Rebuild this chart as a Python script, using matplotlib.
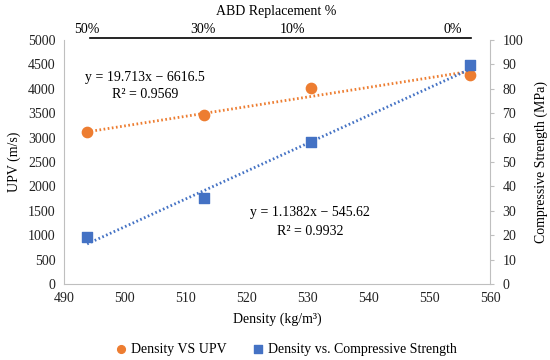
import numpy as np
import matplotlib
matplotlib.use("Agg")
import matplotlib.pyplot as plt

plt.rcParams['font.family'] = ['Liberation Serif', 'DejaVu Serif']
plt.rcParams['font.size'] = 10

# data
density = [493.8, 513.0, 530.6, 556.7]
upv = [3110, 3470, 4020, 4290]
strength = [19.1, 35.3, 58.2, 89.6]
abd_pct = ['50%', '30%', '10%', '0%']
abd_x = [493.8, 512.8, 527.6, 553.9]

# trendline coefficients as printed on the chart
upv_fit = (19.713, -6616.5, 0.9569)
str_fit = (1.1382, -545.62, 0.9932)

orange = '#ED7D31'
blue = '#4472C4'
grey = '#BFBFBF'

fig = plt.figure(figsize=(5.5, 3.6), dpi=100)
ax = fig.add_axes([64/550, 1-284/360, 426/550, 244/360])
ax2 = ax.twinx()

xs = np.array([min(density), max(density)])
ax.plot(xs, upv_fit[0]*xs + upv_fit[1], color=orange, lw=2, ls=(0, (0.6, 0.9)), zorder=2)
ax2.plot(xs, str_fit[0]*xs + str_fit[1], color=blue, lw=2, ls=(0, (0.6, 0.9)), zorder=2)
l1 = ax.scatter(density, upv, s=55, color=orange, marker='o', zorder=3, label='Density VS UPV')
l2 = ax2.scatter(density, strength, s=50, color=blue, marker='s', zorder=3,
                 label='Density vs. Compressive Strength')

ax.set_xlim(490, 560)
ax.set_ylim(0, 5000)
ax2.set_ylim(0, 100)
ax.set_xticks(range(490, 561, 10))
ax.set_yticks(range(0, 5001, 500))
ax2.set_yticks(range(0, 101, 10))

for a in (ax, ax2):
    for s in a.spines.values():
        s.set_visible(False)
ax.spines['left'].set_visible(True)
ax.spines['left'].set_color(grey)
ax.spines['bottom'].set_visible(True)
ax.spines['bottom'].set_color(grey)
ax2.spines['right'].set_visible(True)
ax2.spines['right'].set_color(grey)
ax.tick_params(axis='both', length=0, pad=6, colors='#222222')
ax2.tick_params(axis='y', length=3, pad=6, colors='#222222')
ax2.tick_params(axis='y', color=grey)

ax.set_xlabel('Density (kg/m³)', labelpad=5)
ax.set_ylabel('UPV (m/s)', labelpad=5)
ax2.set_ylabel('Compressive Strength (MPa)', labelpad=8)

ax.text(0.19, 0.847, 'y = %.3fx − %.1f' % (upv_fit[0], -upv_fit[1]),
        transform=ax.transAxes, ha='center', va='center')
ax.text(0.19, 0.777, 'R² = %.4f' % upv_fit[2],
        transform=ax.transAxes, ha='center', va='center')
ax.text(0.577, 0.291, 'y = %.4fx − %.2f' % (str_fit[0], -str_fit[1]),
        transform=ax.transAxes, ha='center', va='center')
ax.text(0.577, 0.217, 'R² = %.4f' % str_fit[2],
        transform=ax.transAxes, ha='center', va='center')

# ABD replacement axis drawn above the plot
ax.plot([494.2, 556.9], [1.007, 1.007], color='black', lw=1.2,
        transform=ax.get_xaxis_transform(), clip_on=False)
for lab, x in zip(abd_pct, abd_x):
    ax.text(x, 1.045, lab, transform=ax.get_xaxis_transform(), ha='center', va='center')
fig.text(276/550, 1-12/360, 'ABD Replacement %', ha='center', va='center')

fig.legend(handles=[l1, l2], loc='center', bbox_to_anchor=(286/550, 11/360), ncol=2,
           frameon=False, handlelength=0.8, handletextpad=0.3, columnspacing=1.9,
           markerscale=0.75)

fig.savefig('out.png', dpi=100)
